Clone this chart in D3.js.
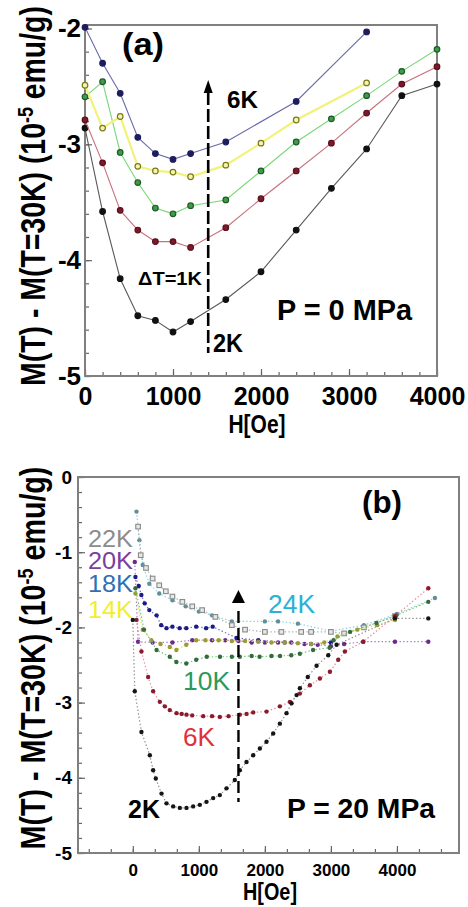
<!DOCTYPE html>
<html>
<head>
<meta charset="utf-8">
<script src="https://cdn.jsdelivr.net/npm/d3@7/dist/d3.min.js"></script>
<style>
body { margin: 0; background: #fff; }
svg { display: block; font-family: "Liberation Sans", Arial, sans-serif; }
</style>
</head>
<body>
<div class="chart"></div>
<script>
// ---- panel (a) data, P = 0 MPa ----
const aH   = [0, 200, 400, 600, 800, 1000, 1200, 1600, 2000, 2400, 2800, 3200, 3600, 4000];
const a6K  = [-1.99, -2.30, -2.56, -2.94, -3.08, -3.13, -3.08, -2.98, null, -2.63, null, -2.03, null, null];
const a5K  = [-2.49, -2.86, -2.76, -3.19, -3.23, -3.24, -3.28, -3.18, -2.99, -2.79, null, -2.47, null, null];
const a4K  = [-2.59, -2.46, -3.07, -3.33, -3.55, -3.60, -3.53, -3.48, -3.23, -2.98, -2.78, -2.58, -2.37, -2.18];
const a3K  = [-2.79, -3.16, -3.57, -3.74, -3.84, -3.84, -3.89, -3.72, -3.47, -3.23, -2.99, -2.73, -2.48, -2.33];
const a2K  = [-2.86, -3.58, -4.16, -4.48, -4.52, -4.62, -4.53, -4.34, -4.10, -3.74, -3.38, -3.04, -2.58, -2.48];
const aXTicks = [0, 1000, 2000, 3000, 4000];
const aYTicks = [-5, -4, -3, -2];

// ---- panel (b) data, P = 20 MPa ----
const b2kH = [0, 30, 131, 258, 308, 348, 435, 510, 611, 712, 813, 914, 1015, 1116, 1217, 1318, 1419, 1545, 1621, 1722, 1823, 1924, 2025, 2126, 2227, 2328, 2404, 2480, 2530, 2650, 2783, 2960, 3086, 3970, 4475];
const b2kM = [-1.90, -2.85, -3.39, -3.70, -3.90, -4.01, -4.21, -4.34, -4.38, -4.40, -4.40, -4.38, -4.36, -4.32, -4.27, -4.23, -4.14, -4.03, -3.90, -3.79, -3.70, -3.61, -3.52, -3.41, -3.28, -3.14, -3.01, -2.90, -2.81, -2.66, -2.51, -2.37, -2.23, -1.88, -1.88];
const b6kH = [56, 131, 232, 308, 409, 485, 560, 662, 740, 813, 900, 1066, 1200, 1318, 1450, 1621, 1723, 1823, 2025, 2227, 2379, 2530, 2682, 2833, 2985, 3111, 3212, 3490, 3970, 4475];
const b6kM = [-1.90, -2.32, -2.66, -2.85, -2.99, -3.05, -3.10, -3.14, -3.15, -3.16, -3.17, -3.18, -3.18, -3.19, -3.18, -3.16, -3.15, -3.13, -3.12, -3.05, -2.99, -2.88, -2.77, -2.68, -2.59, -2.43, -2.32, -2.19, -1.85, -1.48];
const b10kH = [40, 170, 360, 560, 660, 810, 960, 1120, 1320, 1500, 1620, 1800, 1920, 2100, 2230, 2400, 2530, 2730, 2980, 3040, 3290, 3690, 3990, 4475];
const b10kM = [-1.48, -2.03, -2.30, -2.39, -2.46, -2.48, -2.43, -2.39, -2.39, -2.39, -2.39, -2.38, -2.39, -2.38, -2.38, -2.37, -2.35, -2.30, -2.27, -2.17, -2.06, -1.94, -1.84, -1.66];
const b14kH = [40, 150, 280, 420, 560, 660, 810, 960, 1100, 1300, 1500, 1700, 1900, 2100, 2300, 2500, 2700, 2900, 3100, 3400, 3700, 3970];
const b14kM = [-1.55, -2.03, -2.17, -2.22, -2.26, -2.30, -2.23, -2.17, -2.17, -2.17, -2.18, -2.18, -2.19, -2.20, -2.20, -2.21, -2.22, -2.20, -2.12, -2.03, -1.97, -1.90];
const b18kH = [40, 90, 130, 180, 250, 360, 430, 510, 600, 710, 810, 960, 1110, 1210, 1570, 1900, 2300, 2700, 3000];
const b18kM = [-1.33, -1.45, -1.57, -1.68, -1.77, -1.84, -1.97, -2.01, -1.99, -2.01, -2.01, -1.99, -2.01, -1.99, -2.14, -2.17, -2.20, -2.22, -2.20];
const b20kH = [30, 80, 300, 600, 900, 1200, 1400, 1600, 1800, 2000, 2200, 2400, 2600, 2800, 3000, 3200, 3490, 3970, 4475];
const b20kM = [-1.13, -2.19, -2.20, -2.20, -2.17, -2.17, -2.17, -2.18, -2.20, -2.20, -2.20, -2.20, -2.22, -2.23, -2.25, -2.22, -2.19, -2.19, -2.19];
const b22kH = [80, 120, 200, 300, 400, 500, 600, 750, 900, 1050, 1250, 1500, 1700, 2000, 2250, 2550, 2700, 3000, 3200, 3500, 3970];
const b22kM = [-0.66, -1.04, -1.21, -1.35, -1.44, -1.52, -1.59, -1.66, -1.72, -1.77, -1.86, -1.97, -2.03, -2.06, -2.06, -2.06, -2.06, -2.06, -2.08, -2.00, -1.85];
const b24kH = [56, 100, 150, 250, 400, 600, 800, 1000, 1200, 1500, 2000, 2200, 2500, 3000, 3500, 4000, 4575];
const b24kM = [-0.46, -0.84, -1.17, -1.42, -1.55, -1.64, -1.72, -1.79, -1.84, -1.92, -1.92, -1.92, -1.95, -2.05, -1.97, -1.82, -1.61];
const bXTicks = [0, 1000, 2000, 3000, 4000];
const bYTicks = [0, -1, -2, -3, -4, -5];

const w = 468;
const h = 907;

const svg = d3.select(".chart")
  .append("svg")
  .attr("width", w)
  .attr("height", h);

svg.append("rect").attr("width", w).attr("height", h).attr("fill", "#fff");

// scales
const xA = d3.scaleLinear().domain([0, 4000]).range([85, 437]);
const yA = d3.scaleLinear().domain([-5, -1.97]).range([376, 25]);
const xB = d3.scaleLinear().domain([-830, 4940]).range([78, 459]);
const yB = d3.scaleLinear().domain([-5, 0]).range([853, 477]);

//draws axes and frame of one panel
function drawAxes(x, y, opt) {
  const g = svg.append("g");
  const [x0, x1] = x.range();
  const [y0, y1] = y.range();

  // minor ticks
  g.append("g")
    .attr("transform", "translate(0," + y0 + ")")
    .call(d3.axisBottom(x).tickValues(opt.xMinor).tickSize(-4).tickFormat(""));
  g.append("g")
    .attr("transform", "translate(" + x0 + ",0)")
    .call(d3.axisLeft(y).tickValues(opt.yMinor).tickSize(-4).tickFormat(""));

  const xa = g.append("g")
    .attr("transform", "translate(0," + y0 + ")")
    .call(d3.axisBottom(x).tickValues(opt.xTicks).tickSize(-7).tickPadding(opt.padX).tickFormat(d => String(d)));
  const ya = g.append("g")
    .attr("transform", "translate(" + x0 + ",0)")
    .call(d3.axisLeft(y).tickValues(opt.yTicks).tickSize(-7).tickPadding(opt.padY).tickFormat(d => String(d)));

  g.selectAll(".domain").remove();
  g.selectAll(".tick line").attr("stroke", "#666").attr("stroke-width", 1.2);
  xa.selectAll("text").attr("font-size", opt.fsX).attr("font-weight", "bold").attr("fill", "#000")
    .attr("font-family", "Liberation Sans, Arial, sans-serif");
  ya.selectAll("text").attr("font-size", opt.fsY).attr("font-weight", "bold").attr("fill", "#000")
    .attr("font-family", "Liberation Sans, Arial, sans-serif");

  g.append("rect")
    .attr("x", x0).attr("y", y1)
    .attr("width", x1 - x0).attr("height", y0 - y1)
    .attr("fill", "none")
    .attr("stroke", "#808080")
    .attr("stroke-width", 2);
}

// rotated y label, squeezed along its length to fit len pixels
function yLabel(cx, cy, len) {
  const t = svg.append("text")
    .attr("text-anchor", "middle")
    .attr("font-size", 35)
    .attr("font-weight", "bold");
  t.append("tspan").text("M(T) - M(T=30K) (10");
  t.append("tspan").attr("dy", -12).attr("font-size", 22).text("-5");
  t.append("tspan").attr("dy", 12).text(" emu/g)");
  const natural = t.node().getComputedTextLength();
  const k = len / natural;
  t.attr("transform", "translate(" + cx + "," + cy + ") rotate(-90) scale(" + k + ",1)");
}

function label(x, y, txt, opt) {
  const t = svg.append("text")
    .attr("x", x).attr("y", y)
    .attr("font-size", opt.size)
    .attr("font-weight", opt.bold ? "bold" : "normal")
    .attr("fill", opt.color || "#000")
    .text(txt);
  if (opt.len) t.attr("textLength", opt.len).attr("lengthAdjust", "spacingAndGlyphs");
  if (opt.anchor) t.attr("text-anchor", opt.anchor);
  return t;
}

// ================= panel (a) =================
drawAxes(xA, yA, {
  xTicks: aXTicks, yTicks: aYTicks,
  xMinor: d3.range(0, 21).map(i => i * 200),
  yMinor: d3.range(-25, -9).map(i => i / 5),
  fsX: 25, fsY: 26, padX: 11, padY: 4
});

const seriesA = [
  { v: a2K, line: "#5a5a5a", fill: "#111",    stroke: "#111",    w: 1.1 },
  { v: a3K, line: "#c8707c", fill: "#7c1a2a", stroke: "#5a0f1c", w: 1.1 },
  { v: a4K, line: "#78d878", fill: "#3f9a4a", stroke: "#1d5a26", w: 1.1 },
  { v: a5K, line: "#f2f27a", fill: "#f4f2b8", stroke: "#7a7a14", w: 2.2 },
  { v: a6K, line: "#6a6aaa", fill: "#1e1e5e", stroke: "#1e1e5e", w: 1.1 }
];

const lineA = d3.line().x(d => xA(d[0])).y(d => yA(d[1]));

seriesA.forEach(s => {
  const pts = aH.map((hh, i) => [hh, s.v[i]]).filter(d => d[1] !== null);
  svg.append("path")
    .datum(pts)
    .attr("d", lineA)
    .attr("fill", "none")
    .attr("stroke", s.line)
    .attr("stroke-width", s.w);
  svg.append("g").selectAll("circle")
    .data(pts)
    .enter()
      .append("circle")
      .attr("cx", d => xA(d[0]))
      .attr("cy", d => yA(d[1]))
      .attr("r", 2.8)
      .attr("fill", s.fill)
      .attr("stroke", s.stroke)
      .attr("stroke-width", 1.2);
});

// dashed arrow (a)
const arrA = xA(1400);
svg.append("line")
  .attr("x1", arrA).attr("x2", arrA)
  .attr("y1", 92).attr("y2", 353)
  .attr("stroke", "#000").attr("stroke-width", 2.6)
  .attr("stroke-dasharray", "13,4");
svg.append("path")
  .attr("d", "M" + arrA + ",80 L" + (arrA - 4.5) + ",93 L" + (arrA + 4.5) + ",93 Z")
  .attr("fill", "#000");

label(122, 55, "(a)", { size: 32, bold: true, len: 42 });
label(227, 108, "6K", { size: 23, bold: true, len: 31 });
label(138, 285, "\u0394T=1K", { size: 19, bold: true, len: 64 });
label(213, 352, "2K", { size: 25, bold: true, len: 30 });
label(277, 320, "P = 0 MPa", { size: 30, bold: true, len: 135 });
label(257, 433, "H[Oe]", { size: 25, bold: true, len: 57, anchor: "middle" });
yLabel(45, 196, 380);

// ================= panel (b) =================
drawAxes(xB, yB, {
  xTicks: bXTicks, yTicks: bYTicks,
  xMinor: d3.range(-2, 15).map(i => i * 1000 / 3),
  yMinor: d3.range(-25, 1).map(i => i / 5),
  fsX: 17, fsY: 19, padX: 11, padY: 6
});

const seriesB = [
  { hh: b24kH, v: b24kM, line: "#8ccfe0", fill: "#5f8f98", shape: "circle" },
  { hh: b22kH, v: b22kM, line: "#b0b0b0", fill: "#8a8a8a", shape: "square" },
  { hh: b20kH, v: b20kM, line: "#a57cc8", fill: "#6a2a8c", shape: "circle" },
  { hh: b18kH, v: b18kM, line: "#6a6ad0", fill: "#1c1c86", shape: "circle" },
  { hh: b14kH, v: b14kM, line: "#e2e060", fill: "#9a9a3a", shape: "circle" },
  { hh: b10kH, v: b10kM, line: "#6cc07a", fill: "#356a3e", shape: "circle" },
  { hh: b6kH,  v: b6kM,  line: "#e88a9a", fill: "#8a1a2c", shape: "circle" },
  { hh: b2kH,  v: b2kM,  line: "#909090", fill: "#151515", shape: "circle" }
];

const lineB = d3.line().x(d => xB(d[0])).y(d => yB(d[1]));

seriesB.forEach(s => {
  const pts = s.hh.map((hh, i) => [hh, s.v[i]]);
  svg.append("path")
    .datum(pts)
    .attr("d", lineB)
    .attr("fill", "none")
    .attr("stroke", s.line)
    .attr("stroke-width", 1.2)
    .attr("stroke-dasharray", "1.4,2.2");
  const g = svg.append("g");
  if (s.shape === "square") {
    g.selectAll("rect")
      .data(pts)
      .enter()
        .append("rect")
        .attr("x", d => xB(d[0]) - 2.3)
        .attr("y", d => yB(d[1]) - 2.3)
        .attr("width", 4.6).attr("height", 4.6)
        .attr("fill", "#e8e8e8")
        .attr("stroke", s.fill)
        .attr("stroke-width", 1.1);
  } else {
    g.selectAll("circle")
      .data(pts)
      .enter()
        .append("circle")
        .attr("cx", d => xB(d[0]))
        .attr("cy", d => yB(d[1]))
        .attr("r", 2.2)
        .attr("fill", s.fill);
  }
});

// dashed arrow (b)
const arrB = xB(1600);
svg.append("line")
  .attr("x1", arrB).attr("x2", arrB)
  .attr("y1", 611).attr("y2", 802)
  .attr("stroke", "#000").attr("stroke-width", 2.4)
  .attr("stroke-dasharray", "12,5");
svg.append("path")
  .attr("d", "M" + arrB + ",590 L" + (arrB - 6.5) + ",603 L" + (arrB + 6.5) + ",603 Z")
  .attr("fill", "#000");

label(362, 513, "(b)", { size: 31, bold: true, len: 40 });
label(88, 547, "22K", { size: 23, color: "#8c8c8c", len: 45 });
label(88, 569, "20K", { size: 23, color: "#7a3e9d", len: 45 });
label(88, 592, "18K", { size: 23, color: "#2f6fb5", len: 45 });
label(88, 618, "14K", { size: 23, color: "#f2ee2e", len: 45 });
label(268, 613, "24K", { size: 25, color: "#2bb0d6", len: 47 });
label(183, 690, "10K", { size: 25, color: "#2a9a5a", len: 47 });
label(183, 746, "6K", { size: 25, color: "#e0303c", len: 32 });
label(128, 818, "2K", { size: 25, bold: true, len: 32 });
label(287, 818, "P = 20 MPa", { size: 27, bold: true, len: 148 });
label(270, 900, "H[Oe]", { size: 23, bold: true, len: 54, anchor: "middle" });
yLabel(45, 658, 383);
</script>
</body>
</html>
